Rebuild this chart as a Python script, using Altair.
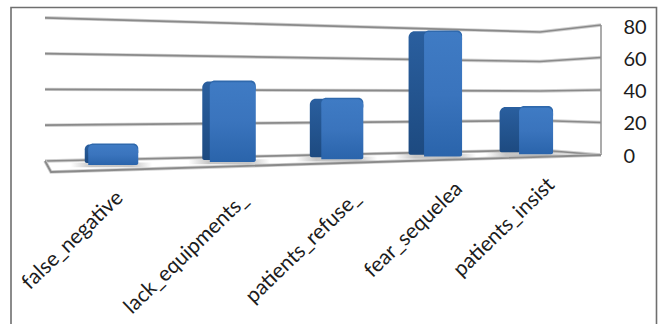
import altair as alt
import pandas as pd

# Chart content
categories = ["false_negative", "lack_equipments_", "patients_refuse_", "fear_sequelea", "patients_insist"]
values = [13, 49, 37, 76, 29]
axis_ticks = [0, 20, 40, 60, 80]

FONT = "Lato"
PLOT_W, PLOT_H = 620, 324
UNIT = 1.612          # pixels per value unit on the axis
ZERO_PX = 156         # pixel row of the axis zero


def row(px):
    """Convert a pixel row of the scene into axis units."""
    return (ZERO_PX - px) / UNIT


def persp(i, origin, span, fade):
    """Perspective spacing along the category direction."""
    return origin + span * i / (1 + fade * i)


x_scale = alt.Scale(domain=[0, PLOT_W], range=[0, PLOT_W], nice=False, zero=False)
y_scale = alt.Scale(domain=[row(PLOT_H), row(0)], range=[PLOT_H, 0], nice=False, zero=False)
value_axis = alt.Axis(
    orient="right", values=axis_ticks, grid=False, domain=False, ticks=False, title=None,
    labelFont=FONT, labelFontSize=20, labelColor="#1c1c1c", labelPadding=3,
)
X = alt.X("x:Q", scale=x_scale, axis=None)
Y = alt.Y("y:Q", scale=y_scale, axis=value_axis)
X2, Y2 = alt.X2("x2:Q"), alt.Y2("y2:Q")

# Back walls: each gridline bends at the corner between the two walls
EDGE_LEFT, EDGE_CORNER, EDGE_RIGHT = 45, 540, 601


def wall(v, x):
    base_px, per_unit = {EDGE_LEFT: (161, 1.79), EDGE_CORNER: (150, 1.475), EDGE_RIGHT: (155, 1.625)}[x]
    return row(base_px - v * per_unit)


grid_rows = []
for v in axis_ticks:
    for x in (EDGE_LEFT, EDGE_CORNER, EDGE_RIGHT):
        grid_rows.append({"x": x, "y": wall(v, x), "level": v})
grid = pd.DataFrame(grid_rows)

grid_halo = alt.Chart(grid).mark_line(stroke="#d0d0d0", strokeWidth=3.4).encode(x=X, y=Y, detail="level:N")
grid_line = alt.Chart(grid).mark_line(stroke="#8a8a8a", strokeWidth=1.7).encode(x=X, y=Y, detail="level:N")

# Right edge of the wall and the floor outline
right_edge = pd.DataFrame({"x": [EDGE_RIGHT, EDGE_RIGHT], "y": [wall(0, EDGE_RIGHT), wall(80, EDGE_RIGHT)]})
edge_line = alt.Chart(right_edge).mark_line(stroke="#8f8f8f", strokeWidth=1.5).encode(x=X, y=Y)

floor = pd.DataFrame({
    "x": [EDGE_LEFT, 51, EDGE_RIGHT],
    "y": [row(161), row(172), row(155)],
    "o": [0, 1, 2],
})
floor_halo = alt.Chart(floor).mark_line(stroke="#d0d0d0", strokeWidth=3.6).encode(x=X, y=Y, order="o:Q")
floor_line = alt.Chart(floor).mark_line(stroke="#8a8a8a", strokeWidth=1.8).encode(x=X, y=Y, order="o:Q")

# Outer frame: left, top and right sides only
frame = pd.DataFrame({"x": [11, 11, 656.5, 656.5], "y": [row(324), row(7.5), row(7.5), row(324)], "o": range(4)})
frame_line = alt.Chart(frame).mark_line(stroke="#6f6f6f", strokeWidth=1.6).encode(x=X, y=Y, order="o:Q")

# Bars: a dark side face, a lighter front face and a soft shadow on the floor
BAR_W = 53.5
bar_rows = []
for i, (name, value) in enumerate(zip(categories, values)):
    center = persp(i, 111.5, 123, 0.0465)
    left, right = center - BAR_W / 2, center + BAR_W / 2
    bottom_px = 165 - 0.026 * (center - 111.5)
    bottom = row(bottom_px)
    top = bottom + value * 1.03
    bar_rows.append({
        "name": name, "left": left, "right": right, "split": left + 3.5 + 4 * i,
        "bottom": bottom, "top": top,
    })
bars = pd.DataFrame(bar_rows)

shadow = bars.assign(x=bars.left - 14, x2=bars.right + 14, y=bars.bottom + 1.6, y2=bars.bottom - 1.4)
shadow_marks = alt.Chart(shadow).mark_rect(
    color=alt.Gradient(
        gradient="linear", x1=0, x2=1, y1=0, y2=0,
        stops=[
            alt.GradientStop(color="rgba(150,150,150,0)", offset=0),
            alt.GradientStop(color="rgba(150,150,150,0.55)", offset=0.25),
            alt.GradientStop(color="rgba(150,150,150,0.55)", offset=0.75),
            alt.GradientStop(color="rgba(150,150,150,0)", offset=1),
        ],
    )
).encode(x=X, x2=X2, y=Y, y2=Y2)

side = bars.assign(x=bars.left, x2=bars.split + 6, y=bars.top - 0.6, y2=bars.bottom + 1.2)
side_marks = alt.Chart(side).mark_bar(
    cornerRadiusTopLeft=6, cornerRadiusBottomLeft=2,
    color=alt.Gradient(
        gradient="linear", x1=0, x2=0, y1=0, y2=1,
        stops=[alt.GradientStop(color="#2a5f9f", offset=0), alt.GradientStop(color="#1d4a80", offset=1)],
    ),
).encode(x=X, x2=X2, y=Y, y2=Y2)

cap = bars.assign(x=bars.split, x2=bars.right, y=bars.top, y2=bars.top - 6)
cap_marks = alt.Chart(cap).mark_bar(
    cornerRadiusTopLeft=5, cornerRadiusTopRight=6, color="#2f69ad"
).encode(x=X, x2=X2, y=Y, y2=Y2)

front = bars.assign(x=bars.split, x2=bars.right, y=bars.top - 1, y2=bars.bottom)
front_marks = alt.Chart(front).mark_bar(
    cornerRadiusTopLeft=4, cornerRadiusTopRight=6, cornerRadiusBottomRight=2,
    color=alt.Gradient(
        gradient="linear", x1=0, x2=0, y1=0, y2=1,
        stops=[
            alt.GradientStop(color="#3f7bc4", offset=0),
            alt.GradientStop(color="#3a74bd", offset=0.5),
            alt.GradientStop(color="#2a64ab", offset=1),
        ],
    ),
).encode(x=X, x2=X2, y=Y, y2=Y2)

# Slanted category names
labels = pd.DataFrame({
    "name": categories,
    "x": [persp(i, 120, 132.5, 0.057) for i in range(len(categories))],
    "y": [row(p) for p in (195, 197, 195, 186, 182)],
})
label_marks = alt.Chart(labels).mark_text(
    angle=316, align="right", baseline="middle", font=FONT, fontSize=21, color="#1c1c1c"
).encode(x=X, y=Y, text="name:N")

chart = alt.layer(
    frame_line, grid_halo, grid_line, edge_line, floor_halo, floor_line,
    shadow_marks, side_marks, cap_marks, front_marks, label_marks,
).properties(
    width=PLOT_W, height=PLOT_H,
    autosize=alt.AutoSizeParams(type="none"),
    padding={"left": 0, "top": 0, "right": 39, "bottom": 0},
    background="white",
).configure_view(stroke=None)

chart.save("out.html", embed_options={"renderer": "svg", "actions": False})
